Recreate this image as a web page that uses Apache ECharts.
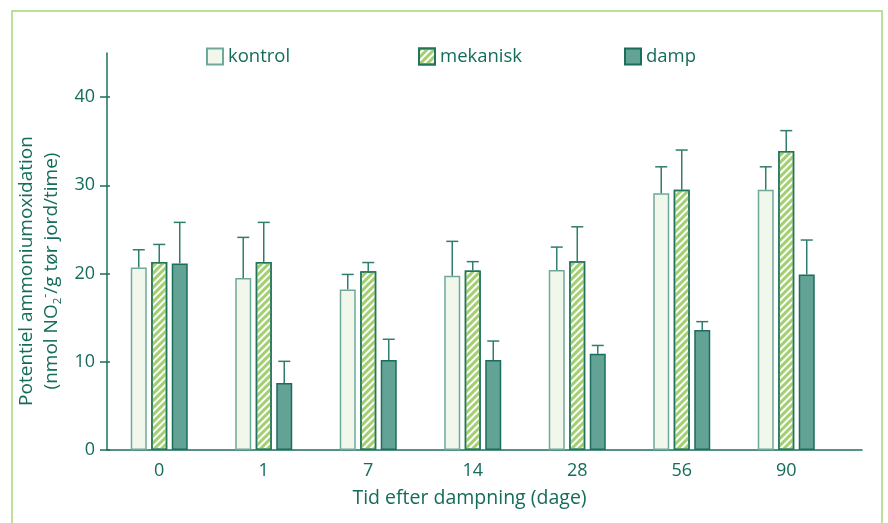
<!DOCTYPE html>
<html>
<head>
<meta charset="utf-8">
<script src="https://cdn.jsdelivr.net/npm/echarts@6/dist/echarts.min.js"></script>
<style>
  html, body { margin: 0; padding: 0; background: #ffffff; }
  #chart { width: 888px; height: 523px; }
</style>
</head>
<body>
<div id="chart"></div>
<script>
// Days after steaming (x categories)
const categories = ['0', '1', '7', '14', '28', '56', '90'];

// Potential ammonium oxidation, means and upper error
const kontrol     = [20.7, 19.5, 18.2, 19.75, 20.4, 29.1, 29.5];
const kontrolErr  = [2.0, 4.6, 1.7, 3.9, 2.6, 3.0, 2.6];
const mekanisk    = [21.3, 21.3, 20.25, 20.35, 21.4, 29.5, 33.9];
const mekaniskErr = [2.0, 4.5, 1.0, 1.0, 3.9, 4.5, 2.3];
const damp        = [21.15, 7.6, 10.2, 10.2, 10.9, 13.6, 19.9];
const dampErr     = [4.65, 2.45, 2.35, 2.15, 0.95, 0.95, 3.9];

// Y-axis tick values
const yTicks = [0, 10, 20, 30, 40];

const TEXT = '#146c5a';
const AXIS = '#1d6f5f';
const FONT = 'Open Sans';

const BAR_W = 16;
const BAR_GAP = 4.5;
const STEP = BAR_W + BAR_GAP;

const chart = echarts.init(document.getElementById('chart'), null, { renderer: 'canvas' });

function pairs(arr) { return arr.map((v, i) => [i, v]); }
function errPairs(vals, errs) { return vals.map((v, i) => [i, v, v + errs[i]]); }

function errorSeries(name, vals, errs, offset, color) {
  return {
    name: name + ' err',
    type: 'custom',
    z: 5,
    silent: true,
    data: errPairs(vals, errs),
    encode: { x: 0, y: [1, 2] },
    renderItem: function (params, api) {
      const base = api.coord([api.value(0), api.value(1)]);
      const top = api.coord([api.value(0), api.value(2)]);
      const x = base[0] + offset;
      const cap = 6;
      const style = { stroke: color, lineWidth: 1.5 };
      return {
        type: 'group',
        children: [
          { type: 'line', shape: { x1: x, y1: base[1], x2: x, y2: top[1] }, style: style },
          { type: 'line', shape: { x1: x - cap, y1: top[1], x2: x + cap, y2: top[1] }, style: style }
        ]
      };
    }
  };
}

const legendBase = {
  orient: 'horizontal',
  itemWidth: 16,
  itemHeight: 16,
  icon: 'rect',
  selectedMode: false,
  textStyle: { color: TEXT, fontSize: 18.5, fontFamily: FONT }
};

const option = {
  backgroundColor: '#ffffff',
  animation: false,
  textStyle: { fontFamily: FONT },
  grid: { left: 107, right: 26, top: 53, bottom: 73, containLabel: false },
  legend: [
    Object.assign({}, legendBase, { data: ['kontrol'], left: 201, top: 42 }),
    Object.assign({}, legendBase, { data: ['mekanisk'], left: 413, top: 42 }),
    Object.assign({}, legendBase, { data: ['damp'], left: 619, top: 42 })
  ],
  xAxis: {
    type: 'value',
    min: -0.5,
    max: 6.725,
    splitLine: { show: false },
    axisTick: { show: false },
    axisLine: { show: true, onZero: false, lineStyle: { color: AXIS, width: 1.5 } },
    axisLabel: {
      customValues: categories.map((c, i) => i),
      formatter: v => categories[Math.round(v)],
      color: TEXT,
      fontSize: 18,
      fontFamily: FONT,
      margin: 12
    },
    name: 'Tid efter dampning (dage)',
    nameLocation: 'middle',
    nameGap: 38,
    nameTextStyle: { color: TEXT, fontSize: 19.5, fontFamily: FONT, padding: [0, 30, 0, 0] }
  },
  yAxis: [
    {
      type: 'value',
      min: 0,
      max: 45,
      splitLine: { show: false },
      axisLine: { show: true, onZero: false, lineStyle: { color: AXIS, width: 1.5 } },
      axisTick: { show: true, customValues: yTicks, length: 7, lineStyle: { color: AXIS, width: 1.5 } },
      axisLabel: { customValues: yTicks, color: TEXT, fontSize: 18, fontFamily: FONT, margin: 12 }
    },
    {
      type: 'value',
      position: 'left',
      min: 0,
      max: 45,
      splitLine: { show: false },
      axisLine: { show: false, onZero: false },
      axisTick: { show: true, inside: true, customValues: yTicks, length: 3, lineStyle: { color: AXIS, width: 1.5 } },
      axisLabel: { show: false }
    }
  ],
  series: [
    {
      name: 'kontrol',
      type: 'bar',
      data: pairs(kontrol),
      barWidth: BAR_W,
      barGap: (BAR_GAP / BAR_W * 100) + '%',
      itemStyle: { color: '#f2f7ec', borderColor: '#6ea99b', borderWidth: 1.5 }
    },
    {
      name: 'mekanisk',
      type: 'bar',
      data: pairs(mekanisk),
      barWidth: BAR_W,
      barGap: (BAR_GAP / BAR_W * 100) + '%',
      itemStyle: {
        color: '#ffffff',
        borderColor: '#23745f',
        borderWidth: 1.5,
        decal: {
          symbol: 'rect',
          symbolSize: 1,
          color: '#a2d070',
          dashArrayX: [1, 0],
          dashArrayY: [2.2, 1.8],
          rotation: -Math.PI / 4
        }
      }
    },
    {
      name: 'damp',
      type: 'bar',
      data: pairs(damp),
      barWidth: BAR_W,
      barGap: (BAR_GAP / BAR_W * 100) + '%',
      itemStyle: { color: '#62a396', borderColor: '#1b6d5c', borderWidth: 1.5 }
    },
    errorSeries('kontrol', kontrol, kontrolErr, -STEP, '#2f7d6c'),
    errorSeries('mekanisk', mekanisk, mekaniskErr, 0, '#2f7d6c'),
    errorSeries('damp', damp, dampErr, STEP, '#2f7d6c')
  ],
  graphic: [
    {
      type: 'rect',
      silent: true,
      shape: { x: 12, y: 11, width: 870, height: 540 },
      style: { fill: 'none', stroke: '#a6d57a', lineWidth: 1.5 }
    },
    {
      type: 'text',
      silent: true,
      x: 39,
      y: 271,
      rotation: Math.PI / 2,
      style: {
        text: '{a|Potentiel ammoniumoxidation}\n{a|(nmol NO}{sub|2}{sup|-}{a|/g tør jord/time)}',
        align: 'center',
        verticalAlign: 'middle',
        fill: TEXT,
        rich: {
          a: { fontSize: 19, fontFamily: FONT, fill: TEXT, lineHeight: 25 },
          sub: { fontSize: 11.5, fontFamily: FONT, fill: TEXT, lineHeight: 25, verticalAlign: 'bottom' },
          sup: { fontSize: 12.5, fontFamily: FONT, fill: TEXT, lineHeight: 25, verticalAlign: 'top' }
        }
      }
    }
  ]
};

chart.setOption(option);
</script>
</body>
</html>
